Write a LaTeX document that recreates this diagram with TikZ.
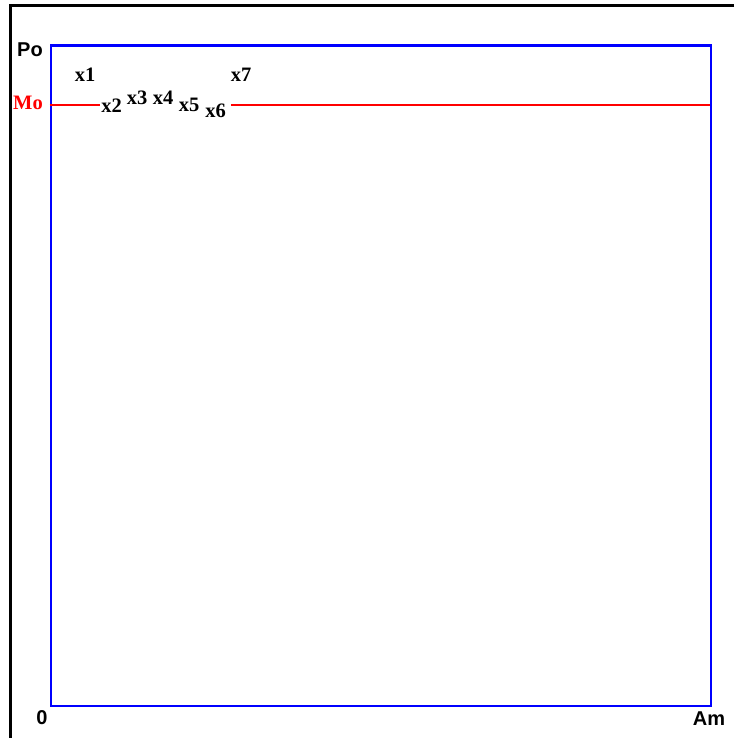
\documentclass[tikz,border=0pt]{standalone}
\usepackage{fontspec}
\setmainfont{Liberation Serif}
\setsansfont{Liberation Sans}
\begin{document}
\begin{tikzpicture}[x=1pt,y=-1pt,
  axislab/.style={font=\sffamily\bfseries\fontsize{20}{20}\selectfont, inner sep=0pt, text=black},
  ptlab/.style={font=\rmfamily\bfseries\fontsize{20.5}{20.5}\selectfont, inner sep=1pt, text=black},
  frame/.style={draw=blue, line width=2.2pt},
  level/.style={draw=red, line width=2pt},
  axisline/.style={draw=black, line width=3.5pt}]
\useasboundingbox (0,0) rectangle (734,738);
% black axis lines
\coordinate (tl) at (10.3,5.7);
\coordinate (tr) at (734,5.7);
\coordinate (bl) at (10.3,738);
\draw[axisline] (tr) -- (tl) -- (bl);
% blue frame
\node[frame, minimum width=660pt, minimum height=660pt, inner sep=0pt, anchor=north west] (box) at (49.5,44.5) {};
% labels
\node[axislab] (po) at (30,50) {Po};
\node[ptlab, text=red] (mo) at (28,103) {Mo};
\node[axislab] (zero) at (42,718) {0};
\node[axislab] (am) at (709,719) {Am};
\node[ptlab] (x1) at (85,75) {x1};
\node[ptlab] (x2) at (111.5,106) {x2};
\node[ptlab] (x3) at (137,98) {x3};
\node[ptlab] (x4) at (163,98) {x4};
\node[ptlab] (x5) at (189,105) {x5};
\node[ptlab] (x6) at (215.5,111) {x6};
\node[ptlab] (x7) at (241,75) {x7};
% red level line
\coordinate (m0) at (49.5,105);
\coordinate (m1) at (709.5,105);
\draw[level] (m0) -- (x2.west |- m0);
\draw[level] ([xshift=4pt]x6.east |- m0) -- (m1);
\end{tikzpicture}
\end{document}
